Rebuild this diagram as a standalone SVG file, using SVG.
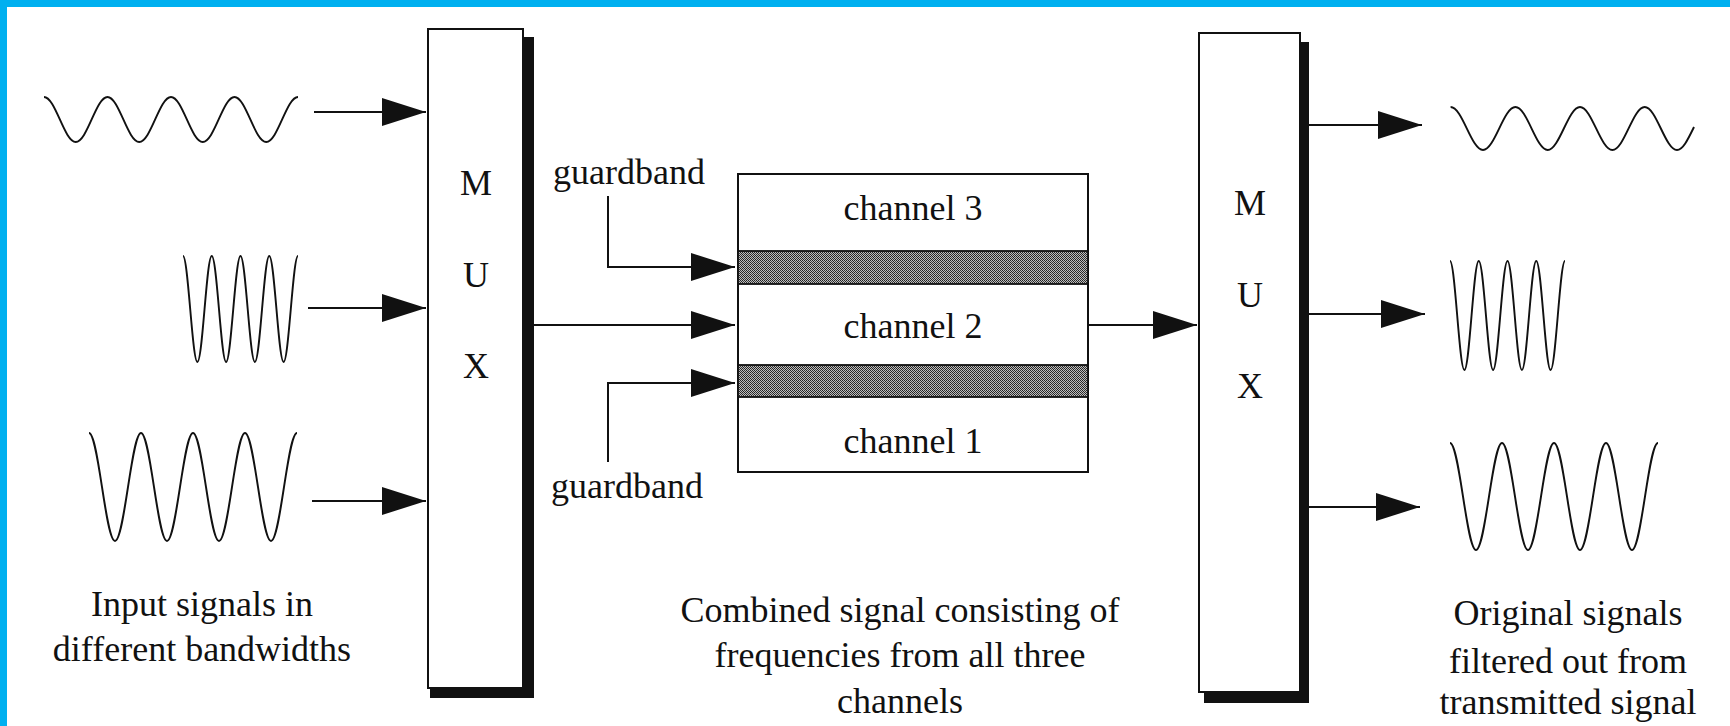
<svg xmlns="http://www.w3.org/2000/svg" width="1730" height="726" viewBox="0 0 1730 726">
<style>
  .t { font-family: "Liberation Serif", "Times New Roman", serif; font-size: 36px; fill: #111; }
  .mid { text-anchor: middle; }
  .wave { fill: none; stroke: #111; stroke-width: 1.9; stroke-linejoin: round; }
  .box { fill: #fff; stroke: #111; stroke-width: 2; }
  .shadow { fill: #111; }
  .conn { fill: none; stroke: #111; stroke-width: 2; }
  .gb { fill: url(#dither); stroke: #111; stroke-width: 1.8; }
</style>
<defs>
  <marker id="ah" markerUnits="userSpaceOnUse" markerWidth="46" markerHeight="30" refX="44" refY="14" orient="auto">
    <path d="M0,0 L44,14 L0,28 Z" fill="#111"/>
  </marker>
  <pattern id="dither" patternUnits="userSpaceOnUse" width="4" height="4">
    <rect width="4" height="4" fill="#bdbdbd"/>
    <rect x="0" y="0" width="1" height="1" fill="#222"/>
    <rect x="2" y="0" width="1" height="1" fill="#222"/>
    <rect x="1" y="1" width="1" height="1" fill="#222"/>
    <rect x="3" y="1" width="1" height="1" fill="#444"/>
    <rect x="0" y="2" width="1" height="1" fill="#333"/>
    <rect x="2" y="2" width="1" height="1" fill="#222"/>
    <rect x="1" y="3" width="1" height="1" fill="#333"/>
    <rect x="3" y="3" width="1" height="1" fill="#222"/>
  </pattern>
</defs>

<rect x="0" y="0" width="1730" height="726" fill="#fff"/>
<g id="frame">
  <rect x="0" y="0" width="1730" height="7" fill="#00b0f0"/>
  <rect x="0" y="0" width="7" height="726" fill="#00b0f0"/>
</g>

<g id="input-wave-1">
  <path class="wave" d="M44,97 C55.5,97 64.2,142 75.75,142 S96,97 107.5,97 S127.7,142 139.25,142 S159.5,97 171,97 S191.2,142 202.75,142 S223,97 234.5,97 S254.7,142 266.25,142 S286.5,97 298,97"/>
</g>
<g id="input-wave-2">
  <path class="wave" d="M183,256 C188.2,256 192.2,362 197.4,362 S206.5,256 211.75,256 S221,362 226.1,362 S235.3,256 240.5,256 S249.7,362 254.9,362 S264,256 269.25,256 S278.4,362 283.6,362 S292.8,256 298,256"/>
</g>
<g id="input-wave-3">
  <path class="wave" d="M89,433 C98.45,433 105.55,541 115,541 S131.55,433 141,433 S157.55,541 167,541 S183.55,433 193,433 S209.55,541 219,541 S235.55,433 245,433 S261.55,541 271,541 S287.55,433 297,433"/>
</g>
<g id="input-label">
  <text class="t mid" x="202" y="616">Input signals in</text>
  <text class="t mid" x="202" y="661">different bandwidths</text>
</g>

<g id="mux">
  <polygon class="shadow" points="523,37 534,37 534,698 430,698 430,688 523,688"/>
  <rect class="box" x="428" y="29" width="95" height="659"/>
  <text class="t mid" x="476" y="195">M</text>
  <text class="t mid" x="476" y="287">U</text>
  <text class="t mid" x="476" y="378">X</text>
</g>

<g id="combined-signal">
  <rect class="box" x="738" y="174" width="350" height="298"/>
  <rect class="gb" x="738" y="251" width="350" height="33"/>
  <rect class="gb" x="738" y="365" width="350" height="32"/>
  <text class="t mid" x="913" y="220">channel 3</text>
  <text class="t mid" x="913" y="338">channel 2</text>
  <text class="t mid" x="913" y="453">channel 1</text>
</g>

<g id="guardband-top-label">
  <text class="t" x="553" y="184">guardband</text>
</g>
<g id="guardband-bottom-label">
  <text class="t" x="551" y="498">guardband</text>
</g>
<g id="combined-label">
  <text class="t mid" x="900" y="622">Combined signal consisting of</text>
  <text class="t mid" x="900" y="667">frequencies from all three</text>
  <text class="t mid" x="900" y="713">channels</text>
</g>

<g id="demux">
  <polygon class="shadow" points="1300,42 1309,42 1309,703 1204,703 1204,692 1300,692"/>
  <rect class="box" x="1199" y="33" width="101" height="659"/>
  <text class="t mid" x="1250" y="215">M</text>
  <text class="t mid" x="1250" y="307">U</text>
  <text class="t mid" x="1250" y="398">X</text>
</g>

<g id="output-wave-1">
  <path class="wave" d="M1450.6,107 C1462.4,107 1471.3,150 1483,150 S1503.6,107 1515.4,107 S1536,150 1547.7,150 S1568.3,107 1580,107 S1600.6,150 1612.4,150 S1633,107 1644.7,107 S1665.3,150 1677,150 C1682.9,150 1688,139.25 1694,127"/>
</g>
<g id="output-wave-2">
  <path class="wave" d="M1450,261 C1455.2,261 1459.2,370 1464.4,370 S1473.5,261 1478.75,261 S1488,370 1493.1,370 S1502.3,261 1507.5,261 S1516.7,370 1521.9,370 S1531,261 1536.25,261 S1545.4,370 1550.6,370 S1559.8,261 1565,261"/>
</g>
<g id="output-wave-3">
  <path class="wave" d="M1450,443 C1459.45,443 1466.55,550 1476,550 S1492.55,443 1502,443 S1518.55,550 1528,550 S1544.55,443 1554,443 S1570.55,550 1580,550 S1596.55,443 1606,443 S1622.55,550 1632,550 S1648.55,443 1658,443"/>
</g>
<g id="output-label">
  <text class="t mid" x="1568" y="625">Original signals</text>
  <text class="t mid" x="1568" y="673">filtered out from</text>
  <text class="t mid" x="1568" y="714">transmitted signal</text>
</g>

<g id="connectors">
  <line class="conn" x1="314" y1="112" x2="426" y2="112" marker-end="url(#ah)"/>
  <line class="conn" x1="308" y1="308" x2="426" y2="308" marker-end="url(#ah)"/>
  <line class="conn" x1="312" y1="501" x2="426" y2="501" marker-end="url(#ah)"/>
  <line class="conn" x1="534" y1="325" x2="735" y2="325" marker-end="url(#ah)"/>
  <polyline class="conn" points="608,196 608,267 735,267" marker-end="url(#ah)"/>
  <polyline class="conn" points="608,462 608,383 735,383" marker-end="url(#ah)"/>
  <line class="conn" x1="1088" y1="325" x2="1197" y2="325" marker-end="url(#ah)"/>
  <line class="conn" x1="1309" y1="125" x2="1422" y2="125" marker-end="url(#ah)"/>
  <line class="conn" x1="1309" y1="314" x2="1425" y2="314" marker-end="url(#ah)"/>
  <line class="conn" x1="1309" y1="507" x2="1420" y2="507" marker-end="url(#ah)"/>
</g>
</svg>
